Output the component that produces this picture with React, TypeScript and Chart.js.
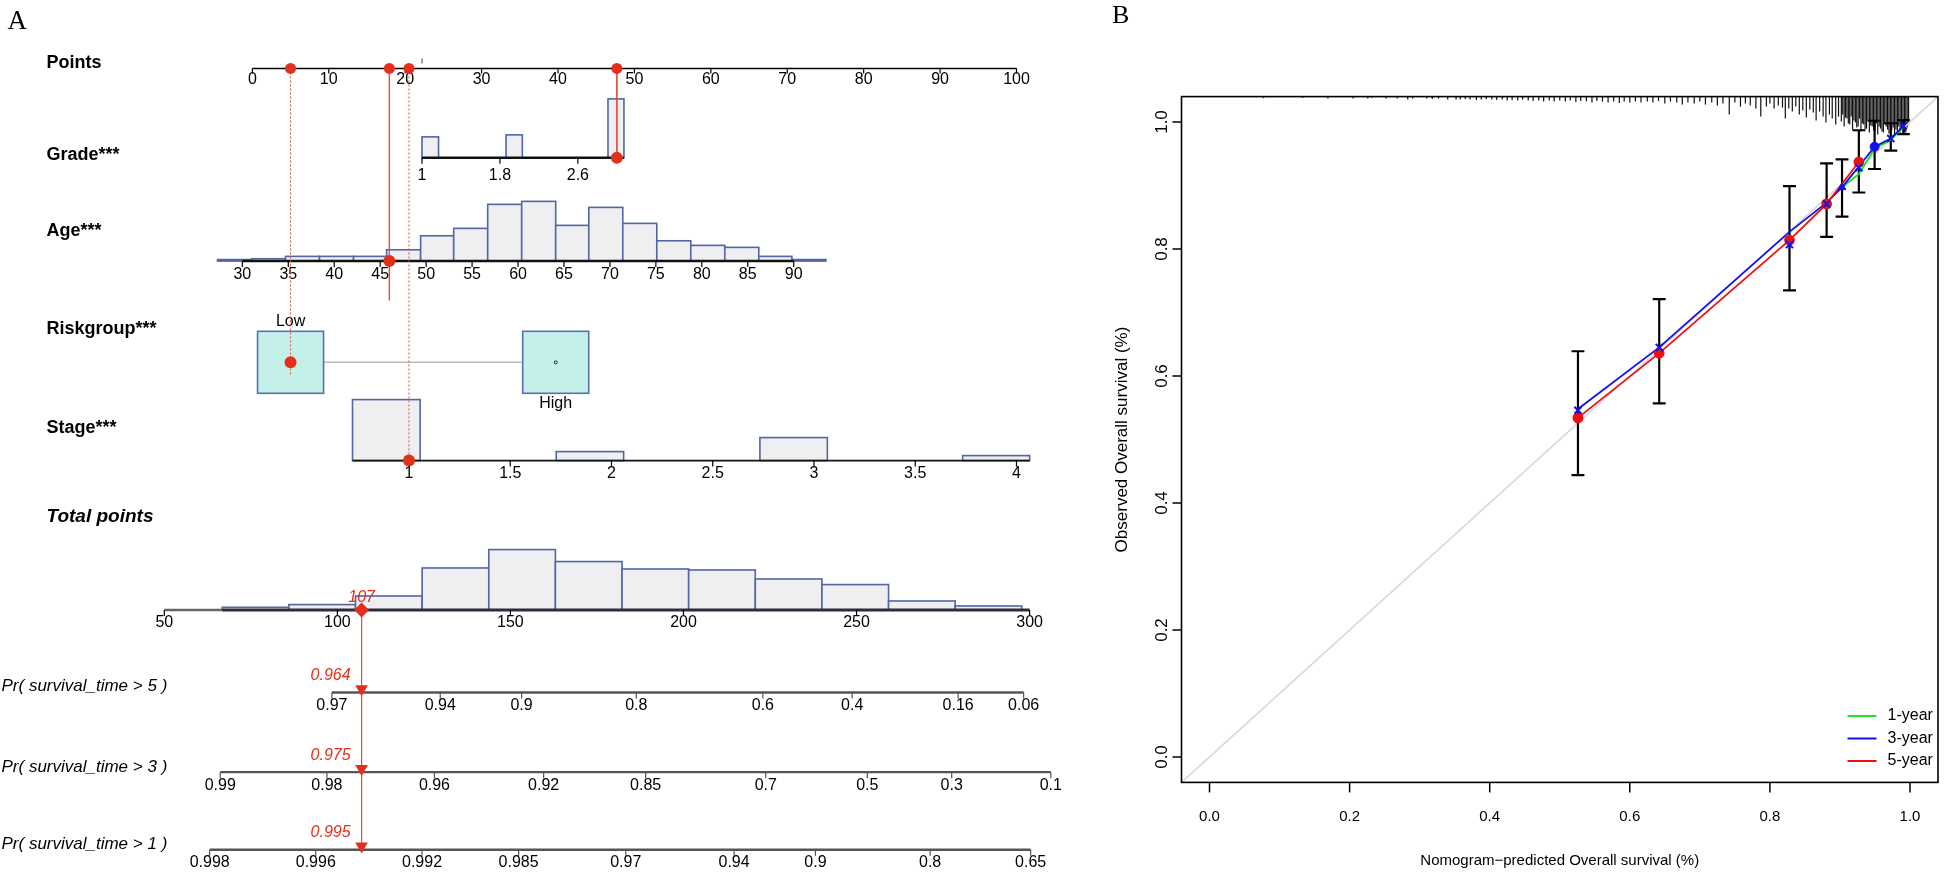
import React, { useEffect, useRef } from "react";
import { Chart, registerables } from "chart.js";

Chart.register(...registerables);

/* ===================== DATA : nomogram (panel A) ===================== */
const pointsTicks = [0, 10, 20, 30, 40, 50, 60, 70, 80, 90, 100];

const gradeTicks = [1, 1.8, 2.6];
const gradeBinStart = [1.0, 1.863, 2.909];
const gradeBinEnd = [1.17, 2.03, 3.073];
const gradeFreq = [21, 23, 59];

const ageTicks = [30, 35, 40, 45, 50, 55, 60, 65, 70, 75, 80, 85, 90];
const ageBinEdges = [27.3, 31.0, 34.7, 38.4, 42.1, 45.7, 49.4, 53.0, 56.7, 60.4, 64.1, 67.7, 71.4, 75.1, 78.8, 82.5, 86.2, 89.8, 93.5];
const ageFreq = [1.5, 2.3, 4.7, 4.7, 4.7, 11.3, 25.3, 32.7, 56.7, 59.7, 35.7, 53.7, 37.7, 20.3, 15.7, 13.7, 4.7, 1.5];

const riskLevels = ["Low", "High"];
const riskPoints = [5.0, 39.7];

const stageTicks = [1, 1.5, 2, 2.5, 3, 3.5, 4];
const stageBinStart = [0.721, 1.727, 2.733, 3.734];
const stageBinEnd = [1.055, 2.06, 3.066, 4.065];
const stageFreq = [61, 9, 23, 5];

const totalTicks = [50, 100, 150, 200, 250, 300];
const totalBinEdges = [66.75, 86.0, 105.25, 124.5, 143.75, 163.0, 182.25, 201.5, 220.75, 240.0, 259.25, 278.5, 297.75];
const totalFreq = [2.7, 5.4, 14, 42, 60.4, 48.4, 41, 40, 31, 25.4, 9, 4];

const survLabels = ["Pr( survival_time > 5 )", "Pr( survival_time > 3 )", "Pr( survival_time > 1 )"];
const survTicks5 = [0.97, 0.94, 0.9, 0.8, 0.6, 0.4, 0.16, 0.06];
const survTicks3 = [0.99, 0.98, 0.96, 0.92, 0.85, 0.7, 0.5, 0.3, 0.1];
const survTicks1 = [0.998, 0.996, 0.992, 0.985, 0.97, 0.94, 0.9, 0.8, 0.65];

// model coefficients: value -> points
const gradeCoef = { ref: 1, pts: 22.2, slope: 12.75 };
const ageCoef = { ref: 30, pts: -1.31, slope: 1.2026 };
const stageCoef = { ref: 1, pts: 20.5, slope: 26.5 };
const totalCoef = { ref: 50, pts: -11.524, slope: 0.45296 };
const survIntercept = [252.6, 269.3, 337.5];
const survSlope = 44.16;

// highlighted patient
const patientGrade = 3;
const patientAge = 46;
const patientRisk = "Low";
const patientStage = 1;
const patientTotal = 107;
const patientSurv = [0.964, 0.975, 0.995];

/* ===================== DATA : calibration (panel B) ===================== */
const calTicks = [0, 0.2, 0.4, 0.6, 0.8, 1.0];
const errX = [0.526, 0.642, 0.828, 0.881, 0.903, 0.927, 0.9495, 0.9726, 0.9905];
const errLo = [0.444, 0.557, 0.735, 0.819, 0.851, 0.889, 0.926, 0.955, 0.981];
const errHi = [0.639, 0.721, 0.899, 0.935, 0.941, 0.987, 1.002, 0.998, 1.003];

const cal1X = [0.903, 0.927, 0.9495, 0.9726, 0.9905];
const cal1Y = [0.897, 0.918, 0.958, 0.972, 0.992];
const cal3X = [0.526, 0.642, 0.828, 0.881, 0.903, 0.927, 0.9495, 0.9726, 0.9905];
const cal3Y = [0.548, 0.645, 0.827, 0.873, 0.897, 0.93, 0.961, 0.974, 0.993];
const cal5X = [0.526, 0.642, 0.828, 0.881, 0.927];
const cal5Y = [0.534, 0.636, 0.814, 0.871, 0.937];

const corr3X = [0.526, 0.642, 0.828, 0.881, 0.927, 0.9726, 0.9905];
const corr3Y = [0.546, 0.645, 0.807, 0.871, 0.928, 0.974, 0.994];
const extraMarkX = [0.903, 0.9495];
const extraMarkY = [0.897, 0.961];
const extraMarkStyle = ["triangle", "circle"];

const rugX = [
  0.077, 0.133, 0.169, 0.205, 0.226, 0.232, 0.252, 0.268, 0.283, 0.29, 0.31, 0.318, 0.327, 0.34, 0.352,
  0.358, 0.365, 0.372, 0.381, 0.388, 0.395, 0.403, 0.41, 0.418, 0.425, 0.432, 0.44, 0.447, 0.455, 0.462, 0.47, 0.477, 0.485, 0.492,
  0.5, 0.508, 0.515, 0.523, 0.53, 0.538, 0.546, 0.553, 0.561, 0.569, 0.577, 0.585, 0.592, 0.6, 0.608, 0.616,
  0.625, 0.633, 0.641, 0.65, 0.658, 0.667, 0.675, 0.683, 0.692, 0.7, 0.708, 0.717, 0.725, 0.733, 0.742, 0.75, 0.758, 0.765, 0.772, 0.78, 0.787,
  0.795, 0.8, 0.806, 0.812, 0.818, 0.822, 0.827, 0.832, 0.837, 0.842, 0.847, 0.852, 0.857, 0.862, 0.866, 0.871, 0.876, 0.88, 0.885, 0.889, 0.894, 0.898,
  0.902, 0.904, 0.906, 0.908, 0.91, 0.912, 0.914, 0.916, 0.918, 0.92, 0.922, 0.924, 0.926, 0.928, 0.93, 0.932, 0.934, 0.936, 0.938, 0.94,
  0.942, 0.944, 0.946, 0.948, 0.95, 0.952, 0.954, 0.956, 0.958, 0.96, 0.962, 0.964, 0.966, 0.968, 0.97, 0.972, 0.974, 0.976, 0.978, 0.98,
  0.982, 0.984, 0.986, 0.988, 0.99, 0.992, 0.994, 0.996, 0.998,
];
const rugLen = [
  1.5, 1.5, 2, 2, 2, 1.5, 2, 2, 3, 2, 2, 2.5, 2, 3, 3,
  3, 2.5, 3, 3.5, 3, 2.5, 3, 3.5, 3, 4, 3.5, 4, 3, 4, 4.5, 4, 5, 4, 5,
  4, 5, 4, 5.5, 4.5, 5, 6, 4.5, 5, 6, 5, 6.5, 5, 6, 5, 6,
  5, 6, 4.5, 7, 5, 6, 8, 6, 7, 5, 8, 6, 9, 7, 18, 6, 10, 7, 9, 12, 20,
  10, 7, 12, 9, 11, 22, 12, 15, 10, 18, 14, 21, 13, 16, 24, 15, 20, 26, 18, 22, 28, 20,
  25, 18, 30, 21, 22, 27, 28, 20, 33, 24, 26, 31, 30, 22, 35, 27, 28, 33, 32, 25,
  36, 29, 30, 34, 34, 27, 38, 30, 32, 35, 36, 28, 30, 33, 37, 30, 34, 31, 38, 33,
  35, 30, 37, 32, 33, 36, 36, 31, 28,
];
const legendLabels = ["1-year", "3-year", "5-year"];

/* ===================== STYLE / LAYOUT ===================== */
const SANS = "'Liberation Sans', Arial, Helvetica, sans-serif";
const SERIF = "'Liberation Serif', 'Times New Roman', serif";
const RED = "#e2301c";
const RED_LINE = "#e4503c";
const HIST_FILL = "#efeef1";
const HIST_EDGE = "#5266a6";
const BOX_FILL = "#c4f0ea";
const BOX_EDGE = "#5670b0";
const GREEN = "#22e022";
const BLUE = "#1010e8";
const RED_B = "#ee1010";

const H = 874;
const A_W = 1080;
const PTS_ZERO_PX = 248.3;
const PX_PER_PT = 7.749;
const ROW = { points: 62, grade: 153, age: 258, risk: 361, stage: 461, total: 613, surv: [697, 778, 857] };
const LABEL_Y = { points: 57, grade: 150, age: 227, risk: 327, stage: 428, total: 518, surv: [691, 773, 851] };
const LABEL_X = 39;
const SURV_LABEL_X = -6;
const BOX_HALF_W = 33;
const BOX_HALF_H = 31;

const B_LEFT = 1080;
const B_W = 865;
const B_PAD = { left: 101.5, right: 1.5, top: 96.6, bottom: 91.6 };
const B_MIN = -0.04;
const B_MAX = 1.04;
const CAP = 0.0092;

/* ===================== helpers ===================== */
const gradePts = (g: number) => gradeCoef.pts + gradeCoef.slope * (g - gradeCoef.ref);
const agePts = (a: number) => ageCoef.pts + ageCoef.slope * (a - ageCoef.ref);
const stagePts = (s: number) => stageCoef.pts + stageCoef.slope * (s - stageCoef.ref);
const totalPos = (t: number) => totalCoef.pts + totalCoef.slope * (t - totalCoef.ref);
const survTotal = (k: number, p: number) => survIntercept[k] + survSlope * Math.log(-Math.log(p));

function seg(ctx: CanvasRenderingContext2D, x1: number, y1: number, x2: number, y2: number, color: string, w: number, dash: number[] = []) {
  ctx.beginPath();
  ctx.setLineDash(dash);
  ctx.strokeStyle = color;
  ctx.lineWidth = w;
  ctx.moveTo(x1, y1);
  ctx.lineTo(x2, y2);
  ctx.stroke();
  ctx.setLineDash([]);
}

function txt(ctx: CanvasRenderingContext2D, s: string, x: number, y: number, font: string, color = "#000", align: CanvasTextAlign = "center", baseline: CanvasTextBaseline = "middle") {
  ctx.font = font;
  ctx.fillStyle = color;
  ctx.textAlign = align;
  ctx.textBaseline = baseline;
  ctx.fillText(s, x, y);
}

function bars(ctx: CanvasRenderingContext2D, X: (v: number) => number, starts: number[], ends: number[], freq: number[], baseY: number, pxPerUnit: number) {
  ctx.lineWidth = 1.6;
  ctx.strokeStyle = HIST_EDGE;
  ctx.fillStyle = HIST_FILL;
  for (let i = 0; i < freq.length; i++) {
    const x0 = X(starts[i]);
    const x1 = X(ends[i]);
    const h = freq[i] * pxPerUnit;
    ctx.fillRect(x0, baseY - h, x1 - x0, h);
    ctx.strokeRect(x0, baseY - h, x1 - x0, h);
  }
}

function ticks(ctx: CanvasRenderingContext2D, xs: number[], labels: string[], y: number, len: number, dy: number, font: string, color = "#000") {
  xs.forEach((x, i) => {
    seg(ctx, x, y, x, y + len, color, 1.2);
    txt(ctx, labels[i], x, y + dy, font);
  });
}

/* ===================== plugins ===================== */
const nomogramPlugin = {
  id: "nomogram",
  beforeDatasetsDraw(chart: any) {
    const ctx: CanvasRenderingContext2D = chart.ctx;
    const sx = chart.scales.x;
    const sy = chart.scales.y;
    const X = (v: number) => sx.getPixelForValue(v);
    const Y = (v: number) => sy.getPixelForValue(v);
    const L = chart.chartArea.left;
    const tickFont = `16px ${SANS}`;
    const rowFont = `bold 18px ${SANS}`;
    ctx.save();

    txt(ctx, "A", L, Y(15), `27px ${SERIF}`, "#000", "left");

    // row labels
    txt(ctx, "Points", L + LABEL_X, Y(LABEL_Y.points), rowFont, "#000", "left");
    txt(ctx, "Grade***", L + LABEL_X, Y(LABEL_Y.grade), rowFont, "#000", "left");
    txt(ctx, "Age***", L + LABEL_X, Y(LABEL_Y.age), rowFont, "#000", "left");
    txt(ctx, "Riskgroup***", L + LABEL_X, Y(LABEL_Y.risk), rowFont, "#000", "left");
    txt(ctx, "Stage***", L + LABEL_X, Y(LABEL_Y.stage), rowFont, "#000", "left");
    txt(ctx, "Total points", L + LABEL_X, Y(LABEL_Y.total), `italic bold 19px ${SANS}`, "#000", "left");
    survLabels.forEach((s, k) => txt(ctx, s, L + SURV_LABEL_X, Y(LABEL_Y.surv[k]), `italic 17px ${SANS}`, "#000", "left"));

    // Points axis
    const yP = Y(ROW.points);
    seg(ctx, X(pointsTicks[0]), yP, X(pointsTicks[pointsTicks.length - 1]), yP, "#000", 1.5);
    ticks(ctx, pointsTicks.map(X), pointsTicks.map(String), yP, 5, 11, tickFont);
    const gm = X(gradePts(gradeTicks[0]));
    seg(ctx, gm, yP - 10, gm, yP - 5, "#444", 1);

    // Grade
    const yG = Y(ROW.grade);
    bars(ctx, (v) => X(gradePts(v)), gradeBinStart, gradeBinEnd, gradeFreq, yG, 1);
    seg(ctx, X(gradePts(gradeTicks[0])), yG, X(gradePts(gradeBinEnd[gradeBinEnd.length - 1])), yG, "#111", 2.5);
    ticks(ctx, gradeTicks.map((v) => X(gradePts(v))), gradeTicks.map(String), yG, 6, 18, tickFont);

    // Age
    const yA = Y(ROW.age);
    bars(ctx, (v) => X(agePts(v)), ageBinEdges.slice(0, -1), ageBinEdges.slice(1), ageFreq, yA, 1);
    seg(ctx, X(agePts(ageTicks[0])), yA, X(agePts(ageTicks[ageTicks.length - 1])), yA, "#111", 2.5);
    ticks(ctx, ageTicks.map((v) => X(agePts(v))), ageTicks.map(String), yA, 6, 14, tickFont);

    // Riskgroup
    const yR = Y(ROW.risk);
    const rx = riskPoints.map(X);
    seg(ctx, rx[0], yR, rx[1], yR, "#bdbdbd", 1.5);
    rx.forEach((x) => {
      ctx.fillStyle = BOX_FILL;
      ctx.fillRect(x - BOX_HALF_W, yR - BOX_HALF_H, 2 * BOX_HALF_W, 2 * BOX_HALF_H);
      ctx.strokeStyle = BOX_EDGE;
      ctx.lineWidth = 1.6;
      ctx.strokeRect(x - BOX_HALF_W, yR - BOX_HALF_H, 2 * BOX_HALF_W, 2 * BOX_HALF_H);
    });
    txt(ctx, riskLevels[0], rx[0], yR - BOX_HALF_H - 10, `16px ${SANS}`);
    txt(ctx, riskLevels[1], rx[1], yR + BOX_HALF_H + 10, `16px ${SANS}`);
    ctx.beginPath();
    ctx.strokeStyle = "#222";
    ctx.lineWidth = 1;
    ctx.arc(rx[1], yR, 1.5, 0, Math.PI * 2);
    ctx.stroke();

    // Stage
    const yS = Y(ROW.stage);
    bars(ctx, (v) => X(stagePts(v)), stageBinStart, stageBinEnd, stageFreq, yS, 1);
    seg(ctx, X(stagePts(stageBinStart[0])), yS, X(stagePts(stageBinEnd[stageBinEnd.length - 1])), yS, "#111", 1.6);
    ticks(ctx, stageTicks.map((v) => X(stagePts(v))), stageTicks.map(String), yS, 6, 13, tickFont);

    // Total points
    const yT = Y(ROW.total);
    bars(ctx, (v) => X(totalPos(v)), totalBinEdges.slice(0, -1), totalBinEdges.slice(1), totalFreq, yT, 1);
    seg(ctx, X(totalPos(totalTicks[0])), yT, X(totalPos(totalBinEdges[0])), yT, "#666", 2.5);
    seg(ctx, X(totalPos(totalBinEdges[0])), yT, X(totalPos(totalTicks[totalTicks.length - 1])), yT, "#2a2d3a", 2.8);
    ticks(ctx, totalTicks.map((v) => X(totalPos(v))), totalTicks.map(String), yT, 6, 13, tickFont);

    // Survival probability axes
    [survTicks5, survTicks3, survTicks1].forEach((tk, k) => {
      const y = Y(ROW.surv[k]);
      const xs = tk.map((p) => X(totalPos(survTotal(k, p))));
      seg(ctx, xs[0], y, xs[xs.length - 1], y, "#555", 2.4);
      ticks(ctx, xs, tk.map(String), y, 6, 13, tickFont, "#555");
    });

    ctx.restore();
  },
  afterDatasetsDraw(chart: any) {
    const ctx: CanvasRenderingContext2D = chart.ctx;
    const X = (v: number) => chart.scales.x.getPixelForValue(v);
    const Y = (v: number) => chart.scales.y.getPixelForValue(v);
    ctx.save();
    const xt = X(totalPos(patientTotal));
    txt(ctx, String(patientTotal), xt, Y(ROW.total) - 12, `italic 16px ${SANS}`, RED);
    patientSurv.forEach((p, k) => {
      txt(ctx, p.toFixed(3), xt - 11, Y(ROW.surv[k]) - 17, `italic 16px ${SANS}`, RED, "right");
    });
    ctx.restore();
  },
};

const calibrationPlugin = {
  id: "calibration",
  beforeDatasetsDraw(chart: any) {
    const ctx: CanvasRenderingContext2D = chart.ctx;
    const ca = chart.chartArea;
    const sx = chart.scales.x;
    ctx.save();
    rugX.forEach((v, i) => {
      const x = sx.getPixelForValue(v);
      seg(ctx, x, ca.top, x, ca.top + rugLen[i], "#111", 1.2);
    });
    ctx.restore();
  },
  afterDatasetsDraw(chart: any) {
    const ctx: CanvasRenderingContext2D = chart.ctx;
    const ca = chart.chartArea;
    const sx = chart.scales.x;
    const sy = chart.scales.y;
    ctx.save();
    ctx.strokeStyle = "#000";
    ctx.lineWidth = 1.6;
    ctx.strokeRect(ca.left, ca.top, ca.right - ca.left, ca.bottom - ca.top);

    calTicks.forEach((v) => {
      const x = sx.getPixelForValue(v);
      seg(ctx, x, ca.bottom, x, ca.bottom + 10, "#000", 1.5);
      txt(ctx, v.toFixed(1), x, ca.bottom + 34, `15px ${SANS}`);
      const y = sy.getPixelForValue(v);
      seg(ctx, ca.left, y, ca.left - 9, y, "#000", 1.5);
      ctx.save();
      ctx.translate(ca.left - 19, y);
      ctx.rotate(-Math.PI / 2);
      txt(ctx, v.toFixed(1), 0, 0, `17px ${SANS}`);
      ctx.restore();
    });

    txt(ctx, "Nomogram\u2212predicted Overall survival (%)", (ca.left + ca.right) / 2, ca.bottom + 78, `15px ${SANS}`);
    ctx.save();
    ctx.translate(ca.left - 59.5, (ca.top + ca.bottom) / 2);
    ctx.rotate(-Math.PI / 2);
    txt(ctx, "Observed Overall survival (%)", 0, 0, `17px ${SANS}`);
    ctx.restore();

    // legend
    const colors = legendLabels.map((lb) => {
      const ds = chart.data.datasets.find((d: any) => d.label === lb);
      return ds ? ds.borderColor : "#000";
    });
    const ly = [ca.bottom - 66.4, ca.bottom - 43.9, ca.bottom - 21.4];
    legendLabels.forEach((lb, i) => {
      seg(ctx, ca.right - 90.5, ly[i], ca.right - 61.5, ly[i], colors[i], 2);
      txt(ctx, lb, ca.right - 50.5, ly[i], `16px ${SANS}`, "#000", "left");
    });

    txt(ctx, "B", 32, 16, `26px ${SERIF}`, "#000", "left");
    ctx.restore();
  },
};

/* ===================== configs ===================== */
function configA(): any {
  const pg = gradePts(patientGrade);
  const pa = agePts(patientAge);
  const pr = riskPoints[riskLevels.indexOf(patientRisk)];
  const ps = stagePts(patientStage);
  const pt = totalPos(patientTotal);
  const dot = { pointRadius: 5.5, pointBackgroundColor: RED, pointBorderColor: RED, pointBorderWidth: 0, clip: false };
  return {
    type: "scatter",
    data: {
      datasets: [
        { data: [pg, pa, pr, ps].map((x) => ({ x, y: ROW.points })), ...dot },
        {
          data: [
            { x: pg, y: ROW.grade },
            { x: pa, y: ROW.age },
            { x: pr, y: ROW.risk },
            { x: ps, y: ROW.stage },
          ],
          ...dot,
          pointRadius: 6,
        },
        { data: [{ x: pt, y: ROW.total }], ...dot, pointStyle: "rectRot", pointRadius: 7.5 },
        { data: ROW.surv.map((y) => ({ x: pt, y: y - 3.6 })), ...dot, pointStyle: "triangle", pointRotation: 180, pointRadius: 7.3 },
        {
          data: [
            { x: pg, y: ROW.points }, { x: pg, y: ROW.grade }, { x: pg, y: null },
            { x: pa, y: ROW.points }, { x: pa, y: ROW.age + 40 }, { x: pa, y: null },
            { x: pt, y: ROW.total }, { x: pt, y: ROW.surv[2] },
          ],
          showLine: true, spanGaps: false, pointRadius: 0, borderColor: RED_LINE, borderWidth: 1, clip: false,
        },
        {
          data: [
            { x: pr, y: ROW.points }, { x: pr, y: ROW.risk + 14 }, { x: pr, y: null },
            { x: ps, y: ROW.points }, { x: ps, y: ROW.stage },
          ],
          showLine: true, spanGaps: false, pointRadius: 0, borderColor: RED_LINE, borderWidth: 1, borderDash: [2, 2], clip: false,
        },
      ],
    },
    options: {
      animation: false,
      responsive: false,
      events: [],
      layout: { padding: 0 },
      plugins: { legend: { display: false }, tooltip: { enabled: false } },
      scales: {
        x: { type: "linear", min: -PTS_ZERO_PX / PX_PER_PT, max: (A_W - PTS_ZERO_PX) / PX_PER_PT, display: false },
        y: { type: "linear", min: 0, max: H, reverse: true, display: false },
      },
    },
    plugins: [nomogramPlugin],
  };
}

function configB(): any {
  const errData: any[] = [];
  errX.forEach((x, i) => {
    errData.push(
      { x, y: errLo[i] }, { x, y: errHi[i] }, { x, y: null },
      { x: x - CAP, y: errLo[i] }, { x: x + CAP, y: errLo[i] }, { x, y: null },
      { x: x - CAP, y: errHi[i] }, { x: x + CAP, y: errHi[i] }, { x, y: null }
    );
  });
  const line = { showLine: true, pointRadius: 0, borderWidth: 1.8, spanGaps: false };
  return {
    type: "scatter",
    data: {
      datasets: [
        { label: "corr3", data: corr3X.map((x, i) => ({ x, y: corr3Y[i] })), pointStyle: "crossRot", pointRadius: 5, pointBorderWidth: 2, pointBorderColor: BLUE, pointBackgroundColor: BLUE },
        { label: "extra", data: extraMarkX.map((x, i) => ({ x, y: extraMarkY[i] })), pointStyle: extraMarkStyle, pointRadius: 4.5, pointBorderColor: BLUE, pointBackgroundColor: BLUE },
        { label: "5-year", data: cal5X.map((x, i) => ({ x, y: cal5Y[i] })), ...line, borderColor: RED_B, pointRadius: 4.5, pointBackgroundColor: RED_B, pointBorderColor: RED_B },
        { label: "3-year", data: cal3X.map((x, i) => ({ x, y: cal3Y[i] })), ...line, borderColor: BLUE },
        { label: "1-year", data: cal1X.map((x, i) => ({ x, y: cal1Y[i] })), ...line, borderColor: GREEN },
        { label: "err", data: errData, ...line, borderColor: "#000", borderWidth: 2.2 },
        { label: "diag", data: [{ x: B_MIN, y: B_MIN }, { x: B_MAX, y: B_MAX }], ...line, borderColor: "#d8d8d8", borderWidth: 1.6 },
      ],
    },
    options: {
      animation: false,
      responsive: false,
      events: [],
      layout: { padding: B_PAD },
      plugins: { legend: { display: false }, tooltip: { enabled: false } },
      scales: {
        x: { type: "linear", min: B_MIN, max: B_MAX, display: false },
        y: { type: "linear", min: B_MIN, max: B_MAX, display: false },
      },
    },
    plugins: [calibrationPlugin],
  };
}

export default function App() {
  const refA = useRef<HTMLCanvasElement>(null);
  const refB = useRef<HTMLCanvasElement>(null);
  useEffect(() => {
    const a = new Chart(refA.current as HTMLCanvasElement, configA());
    const b = new Chart(refB.current as HTMLCanvasElement, configB());
    return () => {
      a.destroy();
      b.destroy();
    };
  }, []);
  return (
    <div style={{ position: "absolute", left: 0, top: 0, width: 1945, height: H, background: "#fff", overflow: "hidden" }}>
      <canvas ref={refA} width={A_W} height={H} style={{ position: "absolute", left: 0, top: 0, width: A_W, height: H }} />
      <canvas ref={refB} width={B_W} height={H} style={{ position: "absolute", left: B_LEFT, top: 0, width: B_W, height: H }} />
    </div>
  );
}
